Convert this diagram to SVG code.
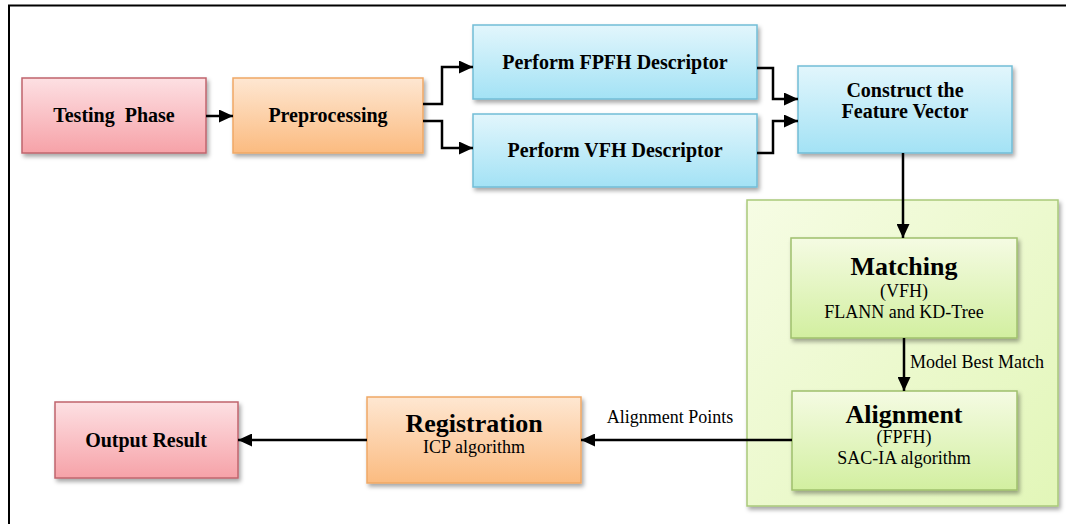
<svg xmlns="http://www.w3.org/2000/svg" width="1067" height="524" viewBox="0 0 1067 524">
<style>
.t{font-family:"Liberation Serif","Times New Roman",serif;fill:#000;text-anchor:middle}
.b{font-weight:bold;font-size:20px}
.big{font-weight:bold;font-size:26px}
.r{font-size:18px}
.c{fill:none;stroke:#000;stroke-width:2.5}
</style>
<defs>
<linearGradient id="gPink" x1="0" y1="0" x2="0" y2="1"><stop offset="0" stop-color="#fde0e3"/><stop offset="1" stop-color="#f6a2a8"/></linearGradient>
<linearGradient id="gOrange" x1="0" y1="0" x2="0" y2="1"><stop offset="0" stop-color="#fee7d2"/><stop offset="1" stop-color="#fbbb80"/></linearGradient>
<linearGradient id="gBlue" x1="0" y1="0" x2="0" y2="1"><stop offset="0" stop-color="#e2f6fc"/><stop offset="1" stop-color="#a3e2f5"/></linearGradient>
<linearGradient id="gGreen" x1="0" y1="0" x2="0" y2="1"><stop offset="0" stop-color="#f5fbe3"/><stop offset="1" stop-color="#d2efa0"/></linearGradient>
<linearGradient id="gCont" x1="0" y1="0" x2="1" y2="1"><stop offset="0" stop-color="#f6fce4"/><stop offset="1" stop-color="#e2f6b8"/></linearGradient>
<filter id="sh" x="-10%" y="-10%" width="130%" height="140%"><feDropShadow dx="2" dy="3" stdDeviation="2" flood-color="#000" flood-opacity="0.35"/></filter>
<marker id="ah" markerUnits="userSpaceOnUse" markerWidth="15" markerHeight="13" refX="14" refY="6.5" orient="auto"><path d="M0,0 L14,6.5 L0,13 z" fill="#000"/></marker>
</defs>
<rect width="1067" height="524" fill="#fff"/>
<path d="M9,524 V5.5 H1066" fill="none" stroke="#000" stroke-width="2"/>

<g id="testing">
<rect x="22" y="78" width="184" height="75" fill="url(#gPink)" stroke="#c0646c" stroke-width="1.5" filter="url(#sh)"/>
<text class="t b" x="114" y="122" xml:space="preserve" style="white-space:pre">Testing  Phase</text>
</g>
<g id="preprocessing">
<rect x="233" y="78" width="190" height="75" fill="url(#gOrange)" stroke="#efa866" stroke-width="1.5" filter="url(#sh)"/>
<text class="t b" x="328" y="122">Preprocessing</text>
</g>
<g id="fpfh">
<rect x="473" y="25" width="284" height="74" fill="url(#gBlue)" stroke="#72bdd6" stroke-width="1.5" filter="url(#sh)"/>
<text class="t b" x="615" y="69">Perform FPFH Descriptor</text>
</g>
<g id="vfh">
<rect x="473" y="114" width="284" height="73" fill="url(#gBlue)" stroke="#72bdd6" stroke-width="1.5" filter="url(#sh)"/>
<text class="t b" x="615" y="157">Perform VFH Descriptor</text>
</g>
<g id="construct">
<rect x="798" y="66" width="214" height="87" fill="url(#gBlue)" stroke="#72bdd6" stroke-width="1.5" filter="url(#sh)"/>
<text class="t b" x="905" y="97">Construct the</text>
<text class="t b" x="905" y="118">Feature Vector</text>
</g>
<g id="container">
<rect x="747" y="200" width="311" height="306" fill="url(#gCont)" stroke="#a9c97a" stroke-width="1.5" filter="url(#sh)"/>
</g>
<g id="matching">
<rect x="791" y="238" width="226" height="100" fill="url(#gGreen)" stroke="#9fc06c" stroke-width="1.5" filter="url(#sh)"/>
<text class="t big" x="904" y="275">Matching</text>
<text class="t r" x="904" y="297">(VFH)</text>
<text class="t r" x="904" y="318">FLANN and KD-Tree</text>
</g>
<g id="alignment">
<rect x="792" y="391" width="225" height="99" fill="url(#gGreen)" stroke="#9fc06c" stroke-width="1.5" filter="url(#sh)"/>
<text class="t big" x="904" y="423">Alignment</text>
<text class="t r" x="904" y="443">(FPFH)</text>
<text class="t r" x="904" y="464">SAC-IA algorithm</text>
</g>
<g id="registration">
<rect x="367" y="397" width="214" height="86" fill="url(#gOrange)" stroke="#efa866" stroke-width="1.5" filter="url(#sh)"/>
<text class="t big" x="474" y="432">Registration</text>
<text class="t r" x="474" y="453">ICP algorithm</text>
</g>
<g id="output">
<rect x="55" y="402" width="183" height="76" fill="url(#gPink)" stroke="#c0646c" stroke-width="1.5" filter="url(#sh)"/>
<text class="t b" x="146" y="447">Output Result</text>
</g>

<g id="connectors">
<path class="c" d="M206,116 H233" marker-end="url(#ah)"/>
<path class="c" d="M423,104 H442 V67 H473" marker-end="url(#ah)"/>
<path class="c" d="M423,121 H442 V148 H473" marker-end="url(#ah)"/>
<path class="c" d="M757,68 H773 V99 H798" marker-end="url(#ah)"/>
<path class="c" d="M757,153 H773 V121 H798" marker-end="url(#ah)"/>
<path class="c" d="M903,153 V238" marker-end="url(#ah)"/>
<path class="c" d="M904,338 V391" marker-end="url(#ah)"/>
<path class="c" d="M792,440 H581" marker-end="url(#ah)"/>
<path class="c" d="M367,440 H238" marker-end="url(#ah)"/>
<text class="t r" x="670" y="423">Alignment Points</text>
<text class="t r" x="977" y="368">Model Best Match</text>
</g>
</svg>
